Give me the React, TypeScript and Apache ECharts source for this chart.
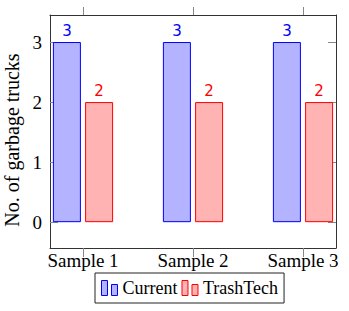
import React, { useEffect, useRef } from 'react';
import * as echarts from 'echarts';

const categories = ['Sample 1', 'Sample 2', 'Sample 3'];
const currentValues = [3, 3, 3];
const trashTechValues = [2, 2, 2];
const yTicks = [0, 1, 2, 3];
const seriesNames = ['Current', 'TrashTech'];
const yTitle = 'No. of garbage trucks';

export default function App() {
  const ref = useRef<HTMLDivElement>(null);
  useEffect(() => {
    document.body.style.margin = '0';
    const chart = echarts.init(ref.current!, null, { renderer: 'svg' });
    const serif = '"Liberation Serif", "Times New Roman", serif';
    const sans = '"DejaVu Sans", sans-serif';
    const xPos = categories.map((_, i) => i);
    const frame = { show: true, onZero: false, lineStyle: { color: '#333', width: 1 } };
    const tickStyle = { color: '#888', width: 1 };
    const blue = { color: '#b3b3ff', borderColor: '#0000ff', borderWidth: 1 };
    const red = { color: '#ffb3b3', borderColor: '#ff0000', borderWidth: 1 };
    const yMin = -0.43;
    const yMax = 3.45;
    chart.setOption({
      animation: false,
      grid: [
        { left: 50, top: 15, width: 286, height: 233, containLabel: false, outerBoundsMode: 'none' },
        { left: 83, top: 15, width: 220, height: 233, containLabel: false, outerBoundsMode: 'none' },
      ],
      graphic: [
        {
          type: 'text',
          x: 12,
          y: 140,
          rotation: Math.PI / 2,
          style: {
            text: yTitle,
            fontFamily: serif,
            fontSize: 20,
            fill: '#000',
            align: 'center',
            verticalAlign: 'middle',
          },
        },
      ],
      legend: {
        left: 95,
        top: 273,
        orient: 'horizontal',
        borderColor: '#222',
        borderWidth: 1,
        padding: [6, 6],
        itemGap: 4,
        itemWidth: 16,
        itemHeight: 15,
        icon: 'path://M0,0L6,0L6,15L0,15Z M10,4L16,4L16,15L10,15Z',
        textStyle: { fontFamily: serif, fontSize: 18, color: '#000' },
        data: [
          { name: seriesNames[0], itemStyle: blue },
          { name: seriesNames[1], itemStyle: red },
        ],
      },
      xAxis: [
        {
          type: 'value',
          gridIndex: 0,
          position: 'bottom',
          min: -0.3,
          max: 2.3,
          axisLine: frame,
          splitLine: { show: false },
          axisTick: { show: true, customValues: xPos, length: 9, lineStyle: tickStyle },
          axisLabel: {
            customValues: xPos,
            formatter: (v: number) => categories[Math.round(v)] ?? '',
            fontFamily: serif,
            fontSize: 19,
            color: '#000',
            margin: 3,
          },
        },
        {
          type: 'value',
          gridIndex: 0,
          position: 'top',
          min: -0.3,
          max: 2.3,
          axisLine: frame,
          splitLine: { show: false },
          axisTick: { show: true, customValues: xPos, length: 8, lineStyle: tickStyle },
          axisLabel: { show: false },
        },
        {
          type: 'category',
          gridIndex: 1,
          data: categories,
          boundaryGap: false,
          show: false,
        },
      ],
      yAxis: [
        {
          type: 'value',
          gridIndex: 0,
          position: 'left',
          min: yMin,
          max: yMax,
          axisLine: frame,
          splitLine: { show: false },
          axisTick: { show: true, inside: true, customValues: yTicks, length: 8, lineStyle: tickStyle },
          axisLabel: {
            customValues: yTicks,
            fontFamily: serif,
            fontSize: 19,
            color: '#000',
            margin: 8,
          },
        },
        {
          type: 'value',
          gridIndex: 0,
          position: 'right',
          min: yMin,
          max: yMax,
          axisLine: frame,
          splitLine: { show: false },
          axisTick: { show: true, inside: true, customValues: yTicks, length: 8, lineStyle: tickStyle },
          axisLabel: { show: false },
        },
        {
          type: 'value',
          gridIndex: 1,
          min: yMin,
          max: yMax,
          show: false,
          splitLine: { show: false },
        },
      ],
      series: [
        {
          name: seriesNames[0],
          type: 'bar',
          xAxisIndex: 2,
          yAxisIndex: 2,
          clip: false,
          barWidth: 28,
          barGap: '15%',
          data: currentValues,
          itemStyle: blue,
          label: { show: true, position: 'top', distance: 4, color: '#0000ff', fontFamily: sans, fontSize: 15 },
        },
        {
          name: seriesNames[1],
          type: 'bar',
          xAxisIndex: 2,
          yAxisIndex: 2,
          clip: false,
          barWidth: 28,
          barGap: '15%',
          data: trashTechValues,
          itemStyle: red,
          label: { show: true, position: 'top', distance: 4, color: '#ff0000', fontFamily: sans, fontSize: 15 },
        },
      ],
    });
    return () => chart.dispose();
  }, []);
  return <div ref={ref} style={{ width: 349, height: 311 }} />;
}
